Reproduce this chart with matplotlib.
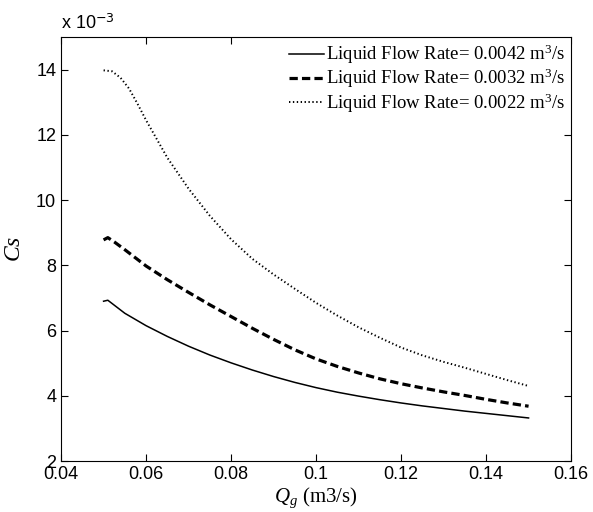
import matplotlib.pyplot as plt

# gas flow rate Qg (m3/s)
qg_solid = [0.050, 0.051, 0.0525, 0.055, 0.060, 0.065, 0.070, 0.075, 0.080, 0.085,
            0.090, 0.095, 0.100, 0.105, 0.110, 0.115, 0.120, 0.125, 0.130, 0.135,
            0.140, 0.145, 0.150]
# Cs values in units of 1e-3
cs_0042 = [6.90, 6.93, 6.78, 6.53, 6.15, 5.82, 5.52, 5.25, 5.01, 4.79,
           4.59, 4.41, 4.25, 4.11, 3.99, 3.88, 3.78, 3.69, 3.61, 3.53,
           3.46, 3.39, 3.32]
cs_0032 = [8.78, 8.85, 8.72, 8.48, 7.98, 7.56, 7.17, 6.79, 6.43, 6.07,
           5.73, 5.41, 5.13, 4.90, 4.70, 4.52, 4.37, 4.24, 4.12, 4.01,
           3.89, 3.78, 3.68]

qg_dot = [0.050, 0.052, 0.054, 0.056, 0.058, 0.060, 0.065, 0.070, 0.075, 0.080,
          0.085, 0.090, 0.095, 0.100, 0.105, 0.110, 0.115, 0.120, 0.125, 0.130,
          0.135, 0.140, 0.145, 0.150]
cs_0022 = [13.98, 13.95, 13.75, 13.42, 12.95, 12.45, 11.30, 10.35, 9.52, 8.80,
           8.20, 7.72, 7.28, 6.85, 6.46, 6.10, 5.78, 5.48, 5.24, 5.04,
           4.86, 4.67, 4.48, 4.30]

labels = ["Liquid Flow Rate= 0.0042 m$^3$/s",
          "Liquid Flow Rate= 0.0032 m$^3$/s",
          "Liquid Flow Rate= 0.0022 m$^3$/s"]

plt.rcParams['font.family'] = 'Liberation Sans'
plt.rcParams['mathtext.fontset'] = 'custom'
plt.rcParams['mathtext.rm'] = 'Liberation Serif'
plt.rcParams['mathtext.it'] = 'Liberation Serif:italic'

fig = plt.figure(figsize=(5.93, 5.12), dpi=100)
ax = fig.add_axes([0.103, 0.0996, 0.86, 0.828])

ax.plot(qg_solid, cs_0042, color='k', lw=1.1, label=labels[0])
ax.plot(qg_solid, cs_0032, color='k', lw=2.3, dashes=(2.6, 1.3), label=labels[1])
ax.plot(qg_dot, cs_0022, color='k', lw=1.4, dashes=(0.7, 1.3), label=labels[2])

ax.set_xlim(0.04, 0.16)
ax.set_ylim(2, 15)
ax.set_xticks([0.04, 0.06, 0.08, 0.1, 0.12, 0.14, 0.16])
ax.set_xticklabels(['0.04', '0.06', '0.08', '0.1', '0.12', '0.14', '0.16'])
ax.set_yticks([2, 4, 6, 8, 10, 12, 14])
ax.tick_params(direction='in', top=True, right=True, labelsize=13, length=5, width=0.8)
for s in ax.spines.values():
    s.set_linewidth(0.8)

ax.text(0.0, 1.01, 'x 10$^{\\mathsf{-3}}$', transform=ax.transAxes, fontsize=13,
        ha='left', va='bottom')
ax.set_ylabel('$Cs$', fontsize=17, labelpad=8)
ax.set_xlabel('$Q_g$ (m3/s)', fontsize=15, labelpad=2, fontfamily='Liberation Serif')

leg = ax.legend(loc='upper right', frameon=True, fancybox=False, edgecolor='white',
                framealpha=1, borderaxespad=0.0, handlelength=1.9, handletextpad=0.1,
                labelspacing=0.05, borderpad=0.3,
                prop={'family': 'Liberation Serif', 'size': 13.5})
leg.set_zorder(2.2)  # keep the spines drawn over the legend box

fig.savefig('out.png', dpi=100)
